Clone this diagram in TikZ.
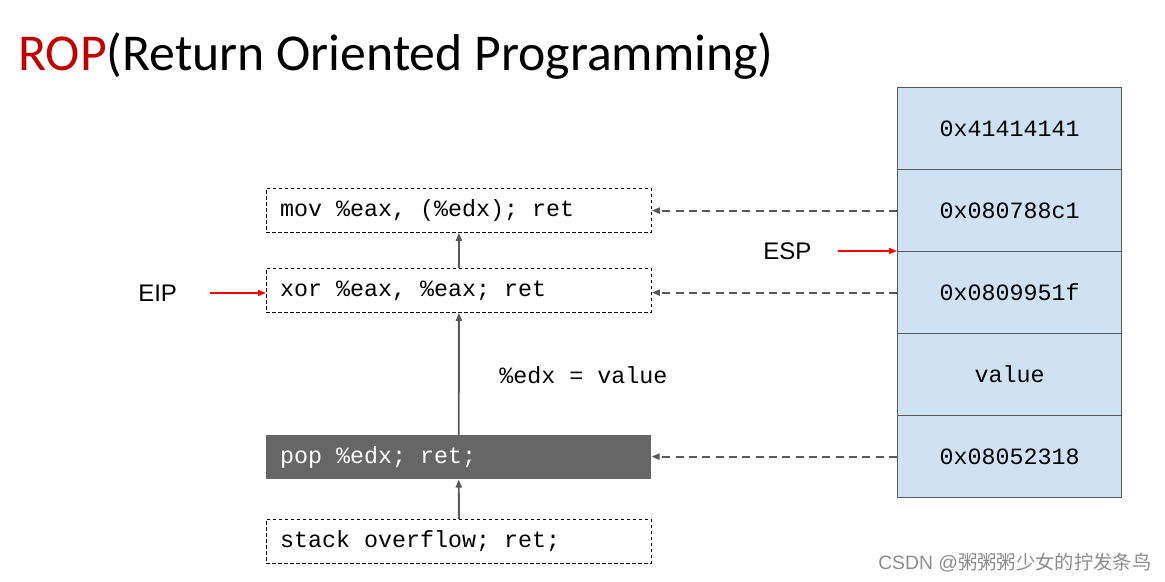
\documentclass[tikz,border=0pt]{standalone}
\usepackage{fontspec}
\setmainfont{Liberation Sans}
\setmonofont{Liberation Mono}
\newfontfamily\titlefont{Carlito}
\newfontfamily\cjk{Noto Sans CJK SC}
\usetikzlibrary{arrows.meta}
\definecolor{ropred}{HTML}{C00000}
\definecolor{cellblue}{HTML}{CFE2F3}
\definecolor{cellline}{HTML}{595959}
\definecolor{darkbox}{HTML}{666666}
\definecolor{arrowgray}{HTML}{595959}
\newcommand{\codeline}[1]{\makebox[268pt][l]{#1}}
\begin{document}
\begin{tikzpicture}[x=0.75pt,y=-0.75pt,
  codebox/.style={draw=black,dashed,dash pattern=on 2.5pt off 2pt,line width=0.6pt,minimum width=288.75pt,minimum height=33pt,inner sep=0pt,anchor=north west,font=\ttfamily\fontsize{17.5}{20}\selectfont},
  popbox/.style={fill=darkbox,draw=none,minimum width=288.75pt,minimum height=33pt,inner sep=0pt,anchor=north west,text=white,font=\ttfamily\fontsize{17.5}{20}\selectfont},
  cell/.style={draw=cellline,fill=cellblue,line width=0.9pt,minimum width=168pt,minimum height=61.5pt,inner sep=0pt,anchor=north west,font=\ttfamily\fontsize{17.5}{20}\selectfont},
  uparrow/.style={draw=arrowgray,line width=1.4pt,-{Triangle[length=6pt,width=4.5pt]}},
  ptrarrow/.style={draw=arrowgray,line width=1.4pt,dash pattern=on 6pt off 4pt,-{Triangle[length=6pt,width=4.5pt]}},
  redarrow/.style={draw=red,line width=1.1pt,-{Triangle[length=6pt,width=4.5pt]}},
  reglabel/.style={font=\fontsize{18}{20}\selectfont,inner sep=0pt}
]
\useasboundingbox (0,0) rectangle (1165,582);
% title
\node[anchor=base west,inner sep=0pt,font=\titlefont\fontsize{38.8}{44}\selectfont] (title) at (18,70) {\textcolor{ropred}{ROP}(Return Oriented Programming)};
% code boxes
\node[codebox] (mov) at (266,188) {\codeline{mov \%eax, (\%edx); ret}};
\node[codebox] (xor) at (266,268) {\codeline{xor \%eax, \%eax; ret}};
\node[popbox] (pop) at (266,435) {\codeline{pop \%edx; ret;}};
\node[codebox] (so) at (266,519) {\codeline{stack overflow; ret;}};
% stack cells
\node[cell] (c1) at (897,87) {0x41414141};
\node[cell] (c2) at (897,169) {0x080788c1};
\node[cell] (c3) at (897,251) {0x0809951f};
\node[cell] (c4) at (897,333) {value};
\node[cell] (c5) at (897,415) {0x08052318};
% vertical arrows
\draw[uparrow] (so.north) -- (pop.south);
\draw[uparrow] (pop.north) -- (xor.south);
\draw[uparrow] (xor.north) -- (mov.south);
% dashed pointer arrows
\draw[ptrarrow] (c2.west) -- (c2.west -| mov.east);
\draw[ptrarrow] (c3.west) -- (c3.west -| xor.east);
\draw[ptrarrow] (c5.west) -- (c5.west -| pop.east);
% label
\node[anchor=west,inner sep=0pt,font=\ttfamily\fontsize{17.5}{20}\selectfont] (edx) at (499,375) {\%edx = value};
% registers
\node[reglabel,anchor=west] (esp) at (763,251) {ESP};
\coordinate (espstart) at (838,251);
\draw[redarrow] (espstart) -- (c3.north west);
\node[reglabel,anchor=west] (eip) at (138,293) {EIP};
\coordinate (eipstart) at (210,293);
\draw[redarrow] (eipstart) -- (eipstart -| xor.west);
% watermark
\node[anchor=west,inner sep=0pt,text=black!45,font=\fontsize{14.5}{16}\selectfont] (wm) at (878,563) {CSDN @{\cjk 粥粥粥少女的拧发条鸟}};
\end{tikzpicture}
\end{document}
